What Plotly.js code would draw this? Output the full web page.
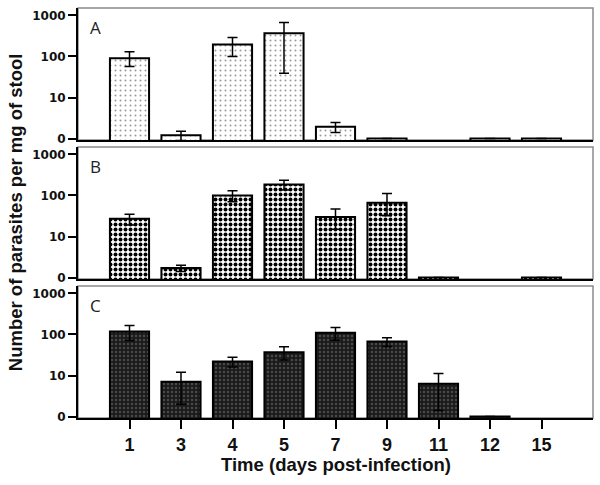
<!DOCTYPE html>
<html>
<head>
<meta charset="utf-8">
<script src="https://cdn.plot.ly/plotly-3.0.1.min.js"></script>
<style>html,body{margin:0;padding:0;background:#fff;}#chart{width:600px;height:485px;}</style>
</head>
<body>
<div id="chart"></div>
<script>
// Days post-infection (categories)
var days = ['1', '3', '4', '5', '7', '9', '11', '12', '15'];

// Panel A (0 = zero count, null = not plotted)
var valsA    = [90, 1.2, 195, 365, 1.95, 0, null, 0, 0];
var errUpA   = [40, 0.3, 95, 305, 0.5, null, null, null, null];
var errDownA = [33, 0.3, 95, 326, 0.55, null, null, null, null];

// Panel B
var valsB    = [27, 1.7, 100, 185, 30, 66, 0, null, 0];
var errUpB   = [8, 0.3, 30, 50, 17, 46, null, null, null];
var errDownB = [8, 0.3, 30, 50, 15, 34, null, null, null];

// Panel C
var valsC    = [118, 7, 22, 37, 110, 67, 6.3, 0, null];
var errUpC   = [47, 5, 6, 13, 38, 16, 4.9, null, null];
var errDownC = [47, 5, 6, 13, 38, 16, 4.9, null, null];

// y tick labels (the axis floor is labelled "0")
var yTickVals = [1, 10, 100, 1000];
var yTickText = ['0', '10', '100', '1000'];
var panelLabels = ['A', 'B', 'C'];

function toAxis(v) { return v === null ? null : (v === 0 ? 1 : v); }

function barTrace(vals, up, down, xa, ya, pattern, color) {
  return {
    type: 'bar', x: days, y: vals.map(toAxis), xaxis: xa, yaxis: ya,
    width: 0.76,
    marker: {color: color, line: {color: '#000', width: 2}, pattern: pattern},
    error_y: {type: 'data', symmetric: false, array: up, arrayminus: down,
              color: '#000', thickness: 1.5, width: 5},
    showlegend: false, hoverinfo: 'skip'
  };
}

var data = [
  barTrace(valsA, errUpA, errDownA, 'x', 'y',
    {shape: '.', fgcolor: '#9a9a9a', bgcolor: '#ffffff', size: 5, solidity: 0.12, fillmode: 'replace'}, '#ffffff'),
  barTrace(valsB, errUpB, errDownB, 'x2', 'y2',
    {shape: '.', fgcolor: '#000000', bgcolor: '#ffffff', size: 5, solidity: 0.5, fillmode: 'replace'}, '#ffffff'),
  barTrace(valsC, errUpC, errDownC, 'x3', 'y3',
    {shape: '.', fgcolor: '#4a4a4a', bgcolor: '#1a1a1a', size: 4, solidity: 0.3, fillmode: 'replace'}, '#1a1a1a')
];

function yAx(domain) {
  return {
    domain: domain, type: 'log', range: [-0.035, 3.18],
    tickmode: 'array', tickvals: yTickVals, ticktext: yTickText,
    ticks: 'outside', ticklen: 8, tickwidth: 2, tickcolor: '#000',
    showline: true, linecolor: '#000', linewidth: 2,
    showgrid: false, zeroline: false,
    tickfont: {family: 'DejaVu Sans', size: 12, color: '#111', weight: 'bold'}
  };
}
function xAx(anchor, showLabels) {
  return {
    anchor: anchor, type: 'category', categoryorder: 'array', categoryarray: days,
    range: [-1, 9], showline: true, linecolor: '#000', linewidth: 2,
    showgrid: false, zeroline: false,
    ticks: showLabels ? 'outside' : '', ticklen: 9, tickwidth: 2, tickcolor: '#000',
    showticklabels: showLabels,
    tickfont: {family: 'Liberation Sans, Arial', size: 18, color: '#111', weight: 'bold'}
  };
}

var boxes = ['y', 'y2', 'y3'].map(function (ya) {
  return {type: 'rect', xref: 'paper', yref: ya + ' domain', x0: 0, x1: 1, y0: 0, y1: 1,
          line: {color: '#8a8a8a', width: 1.5}, layer: 'below'};
});

var letterAnn = ['y', 'y2', 'y3'].map(function (ya, i) {
  return {text: panelLabels[i], xref: 'paper', yref: ya + ' domain', x: 0.02, y: 0.85,
          xanchor: 'left', yanchor: 'middle', showarrow: false,
          font: {family: 'Open Sans', size: 17, color: '#222'}};
});

var layout = {
  width: 600, height: 485,
  margin: {l: 78, r: 7, t: 8, b: 67},
  paper_bgcolor: '#fff', plot_bgcolor: '#fff',
  bargap: 0.24,
  xaxis: xAx('y', false), xaxis2: xAx('y2', false), xaxis3: xAx('y3', true),
  yaxis: yAx([0.678, 1]), yaxis2: yAx([0.339, 0.661]), yaxis3: yAx([0, 0.322]),
  shapes: boxes,
  annotations: letterAnn.concat([
    {text: 'Number of parasites per mg of stool', xref: 'paper', yref: 'paper',
     x: -0.1223, y: 0.502, xanchor: 'center', yanchor: 'middle', textangle: -90, showarrow: false,
     font: {family: 'Liberation Sans, Arial', size: 18.5, color: '#111', weight: 'bold'}},
    {text: 'Time (days post-infection)', xref: 'paper', yref: 'paper',
     x: 0.5, y: -0.1146, xanchor: 'center', yanchor: 'middle', showarrow: false,
     font: {family: 'Liberation Sans, Arial', size: 18.5, color: '#111', weight: 'bold'}}
  ])
};

Plotly.newPlot('chart', data, layout, {staticPlot: true, displayModeBar: false});
</script>
</body>
</html>
